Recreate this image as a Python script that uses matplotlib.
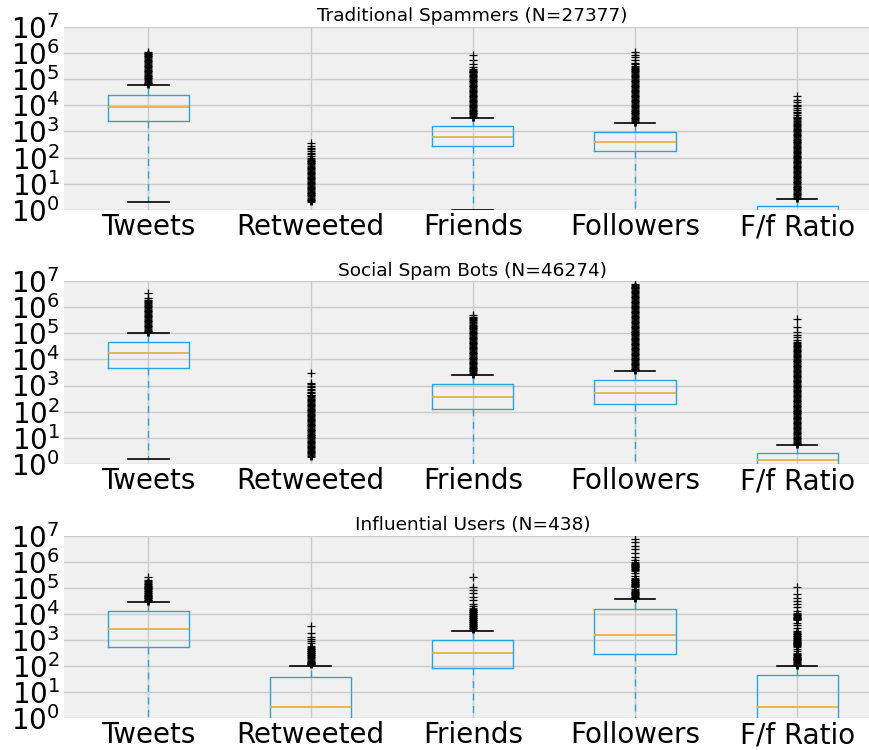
import numpy as np
import matplotlib
matplotlib.use('Agg')
import matplotlib.pyplot as plt
from matplotlib.ticker import NullLocator

# ---- data -------------------------------------------------------------
categories = ['Tweets', 'Retweeted', 'Friends', 'Followers', 'F/f Ratio']
titles = ['Traditional Spammers (N=27377)',
          'Social Spam Bots (N=46274)',
          'Influential Users (N=438)']
decades = [1, 10, 100, 1e3, 1e4, 1e5, 1e6, 1e7]

# box statistics per category (0 = below the log axis, not drawn)
trad_whislo = [2, 0, 1, 0, 0]
trad_q1 = [2500, 0, 275, 180, 0.1]
trad_med = [8900, 0, 620, 390, 0.6]
trad_q3 = [25000, 0, 1550, 930, 1.4]
trad_whishi = [59000, 0, 3300, 2140, 2.6]

bots_whislo = [1.5, 0, 0, 0, 0]
bots_q1 = [4900, 0, 129, 195, 0.2]
bots_med = [17000, 0, 363, 537, 1.4]
bots_q3 = [45700, 0, 1120, 1620, 2.5]
bots_whishi = [105000, 0, 2570, 3630, 5.2]

infl_whislo = [0, 0, 0, 0, 0]
infl_q1 = [537, 0, 79, 288, 0]
infl_med = [2570, 2.5, 302, 1550, 2.6]
infl_q3 = [12300, 38, 955, 14800, 42]
infl_whishi = [28800, 98, 2240, 37200, 98]

# outliers, log10(value); "dense" runs show up as solid black columns
trad_dense = [
    [4.80, 4.89, 4.99, 5.08, 5.18, 5.27, 5.37, 5.46, 5.56, 5.65, 5.75, 5.84, 5.92],
    [0.32, 0.41, 0.51, 0.60, 0.70, 0.79, 0.89, 0.98, 1.08, 1.17, 1.27, 1.36, 1.46,
     1.55, 1.65, 1.74, 1.84, 1.90],
    [3.55, 3.65, 3.74, 3.84, 3.93, 4.03, 4.12, 4.22, 4.31, 4.41, 4.50, 4.60, 4.69,
     4.79, 4.88, 4.98, 5.07, 5.17, 5.26, 5.30],
    [3.36, 3.46, 3.55, 3.65, 3.74, 3.84, 3.93, 4.03, 4.12, 4.22, 4.31, 4.41, 4.50,
     4.60, 4.69, 4.79, 4.88, 4.98, 5.07, 5.17, 5.26, 5.36, 5.43],
    [0.45, 0.55, 0.64, 0.74, 0.83, 0.93, 1.02, 1.12, 1.21, 1.31, 1.40, 1.50, 1.59,
     1.69, 1.78, 1.88, 1.97, 2.07, 2.16, 2.26, 2.35, 2.45, 2.54, 2.64, 2.73, 2.83,
     2.92, 3.02, 3.11, 3.21, 3.30, 3.40, 3.50],
]
trad_sparse = [
    [5.97, 6.02, 6.06],
    [1.98, 2.05, 2.12, 2.18, 2.25, 2.31, 2.38, 2.44, 2.55],
    [5.38, 5.48, 5.58, 5.74, 5.93],
    [5.50, 5.57, 5.64, 5.74, 5.84, 5.93, 6.03],
    [3.57, 3.64, 3.70, 3.76, 3.83, 3.89, 3.96, 4.02, 4.12, 4.21, 4.34],
]

bots_dense = [
    [5.05, 5.14, 5.24, 5.33, 5.43, 5.52, 5.62, 5.71, 5.81, 5.90, 6.00, 6.09],
    [0.30, 0.40, 0.49, 0.59, 0.68, 0.78, 0.87, 0.97, 1.06, 1.16, 1.25, 1.35, 1.44,
     1.54, 1.63, 1.73, 1.82, 1.92, 2.01, 2.11, 2.20, 2.30, 2.39, 2.49, 2.58],
    [3.44, 3.54, 3.63, 3.73, 3.82, 3.92, 4.01, 4.11, 4.20, 4.30, 4.39, 4.49, 4.58,
     4.68, 4.77, 4.87, 4.96, 5.06, 5.15, 5.25, 5.34, 5.45],
    [3.59, 3.69, 3.78, 3.88, 3.97, 4.07, 4.16, 4.26, 4.35, 4.45, 4.54, 4.64, 4.73,
     4.83, 4.92, 5.02, 5.11, 5.21, 5.30, 5.40, 5.49, 5.59, 5.68, 5.78, 5.87, 5.97,
     6.06, 6.16, 6.25, 6.35, 6.44, 6.54, 6.63, 6.73, 6.79],
    [0.75, 0.85, 0.94, 1.04, 1.13, 1.23, 1.32, 1.42, 1.51, 1.61, 1.70, 1.80, 1.89,
     1.99, 2.08, 2.18, 2.27, 2.37, 2.46, 2.56, 2.65, 2.75, 2.84, 2.94, 3.03, 3.13,
     3.22, 3.32, 3.41, 3.51, 3.60, 3.70, 3.79, 3.89, 3.98, 4.08, 4.17, 4.27, 4.36,
     4.46, 4.55],
]
bots_sparse = [
    [6.15, 6.19, 6.24, 6.28, 6.37, 6.54],
    [2.64, 2.70, 2.76, 2.82, 2.88, 2.94, 3.00, 3.05, 3.08, 3.47],
    [5.50, 5.55, 5.60, 5.64, 5.70],
    [6.84, 6.88],
    [4.62, 4.68, 4.76, 4.85, 4.93, 5.06, 5.25, 5.55],
]

infl_dense = [
    [4.50, 4.57, 4.64, 4.70, 4.77, 4.84, 4.91, 4.97, 5.04, 5.11, 5.17],
    [2.05, 2.12, 2.20, 2.28, 2.36, 2.44, 2.52, 2.60, 2.67],
    [3.40, 3.48, 3.56, 3.64, 3.72, 3.80, 3.88, 3.96, 4.04, 4.12, 4.20],
    [4.60, 4.67, 4.74, 4.81, 4.88, 5.05, 5.12, 5.19, 5.26, 5.33, 5.68, 5.75, 5.82,
     5.89, 5.95],
    [2.03, 2.10, 2.17, 2.24, 2.31, 2.38, 2.45, 2.75, 2.82, 2.89, 2.96, 3.03, 3.10,
     3.17, 3.24, 3.78, 3.85, 3.92, 3.99],
]
infl_sparse = [
    [5.24, 5.30, 5.42],
    [2.76, 2.86, 2.95, 3.02, 3.12, 3.25, 3.54],
    [4.28, 4.36, 4.53, 4.65, 4.78, 4.91, 5.01, 5.40],
    [4.95, 5.45, 5.55, 6.05, 6.20, 6.35, 6.50, 6.62, 6.75, 6.86],
    [2.55, 2.63, 3.35, 3.45, 3.55, 3.65, 4.12, 4.25, 4.38, 4.50, 4.62, 4.75, 5.02],
]

panels = [
    (trad_whislo, trad_q1, trad_med, trad_q3, trad_whishi, trad_dense, trad_sparse),
    (bots_whislo, bots_q1, bots_med, bots_q3, bots_whishi, bots_dense, bots_sparse),
    (infl_whislo, infl_q1, infl_med, infl_q3, infl_whishi, infl_dense, infl_sparse),
]

# ---- style ------------------------------------------------------------
BOX = '#30a2da'
MED = '#e5ae38'
BG = '#f0f0f0'
GRID = '#cbcbcb'

W, H = 870, 750
fig = plt.figure(figsize=(W / 100, H / 100), dpi=100)

# pixel top/bottom of each axes in the reference
rows = [(27, 209.8), (281.2, 463.8), (535.7, 717.7)]
left_px, width_px = 64, 817.5

pos = np.arange(1, len(categories) + 1)

for (top, bot), title, data in zip(rows, titles, panels):
    whislo, q1, med, q3, whishi, dense, sparse = data
    ax = fig.add_axes([left_px / W, 1 - bot / H, width_px / W, (bot - top) / H])
    ax.set_facecolor(BG)
    ax.set_yscale('log')

    stats = []
    for i in range(len(categories)):
        stats.append(dict(med=med[i], q1=q1[i], q3=q3[i],
                          whislo=whislo[i], whishi=whishi[i], fliers=[]))
    ax.bxp(stats, positions=pos, widths=0.5, showfliers=False,
           boxprops=dict(color=BOX, linewidth=1.0),
           whiskerprops=dict(color=BOX, linewidth=1.0, linestyle=(0, (5, 4))),
           capprops=dict(color='black', linewidth=1.2),
           medianprops=dict(color=MED, linewidth=1.2))

    for i in range(len(categories)):
        d = 10 ** np.array(dense[i])
        s = 10 ** np.array(sparse[i])
        ax.plot(np.full(len(d), pos[i]), d, '+', color='black', ms=6, mew=2.0)
        ax.plot(np.full(len(s), pos[i]), s, '+', color='black', ms=6, mew=0.9)

    ax.set_xlim(0.48, 5.52)
    ax.set_ylim(1, 1e7)
    ax.set_yticks(decades)
    ax.yaxis.set_minor_locator(NullLocator())
    ax.set_xticks(pos)
    ax.set_xticklabels(categories)
    ax.tick_params(length=0, labelsize=20)
    ax.tick_params(axis='x', pad=2.5)
    ax.tick_params(axis='y', pad=3)
    ax.grid(True, color=GRID, linewidth=1.0, linestyle='-')
    ax.set_axisbelow(True)
    for s in ax.spines.values():
        s.set_visible(False)
    ax.set_title(title, fontsize=13.3, pad=4)

fig.savefig('out.png', dpi=100)
